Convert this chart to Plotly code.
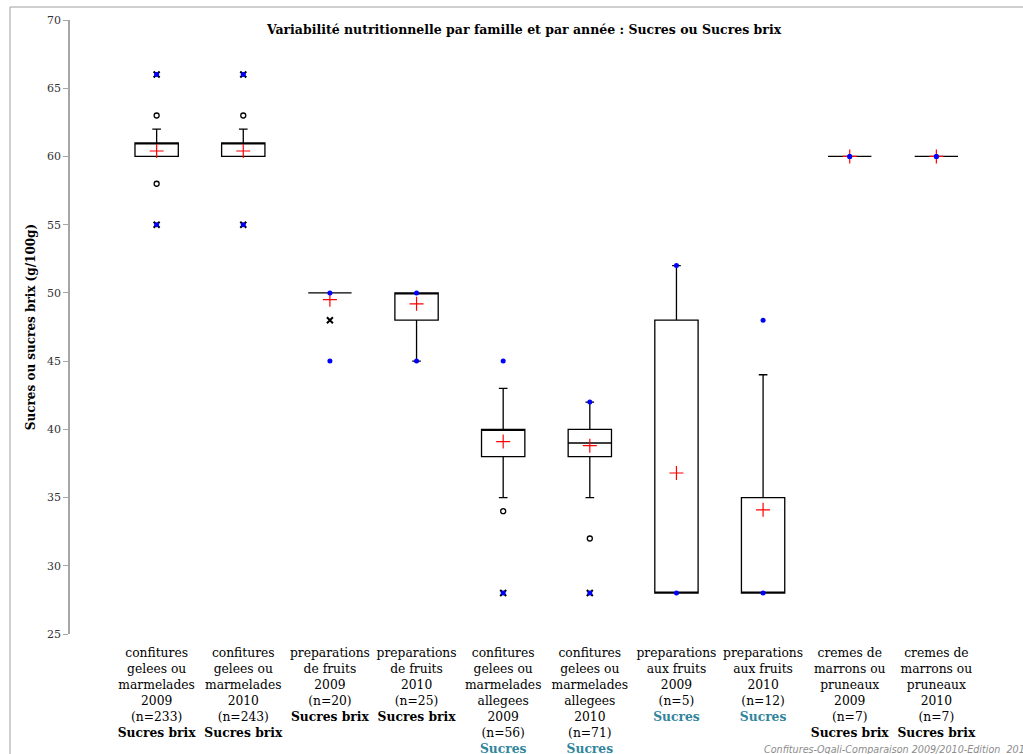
import plotly.graph_objects as go

# ---- data ----
categories = [
    "confitures<br>gelees ou<br>marmelades<br>2009<br>(n=233)<br><b>Sucres brix</b>",
    "confitures<br>gelees ou<br>marmelades<br>2010<br>(n=243)<br><b>Sucres brix</b>",
    "preparations<br>de fruits<br>2009<br>(n=20)<br><b>Sucres brix</b>",
    "preparations<br>de fruits<br>2010<br>(n=25)<br><b>Sucres brix</b>",
    "confitures<br>gelees ou<br>marmelades<br>allegees<br>2009<br>(n=56)<br><b><span style='color:#31859C'>Sucres</span></b>",
    "confitures<br>gelees ou<br>marmelades<br>allegees<br>2010<br>(n=71)<br><b><span style='color:#31859C'>Sucres</span></b>",
    "preparations<br>aux fruits<br>2009<br>(n=5)<br><b><span style='color:#31859C'>Sucres</span></b>",
    "preparations<br>aux fruits<br>2010<br>(n=12)<br><b><span style='color:#31859C'>Sucres</span></b>",
    "cremes de<br>marrons ou<br>pruneaux<br>2009<br>(n=7)<br><b>Sucres brix</b>",
    "cremes de<br>marrons ou<br>pruneaux<br>2010<br>(n=7)<br><b>Sucres brix</b>",
]
positions = [1, 2, 3, 4, 5, 6, 7, 8, 9, 10]
q1 = [60, 60, 50, 48, 38, 38, 28, 28, 60, 60]
median = [61, 61, 50, 50, 40, 39, 28, 28, 60, 60]
q3 = [61, 61, 50, 50, 40, 40, 48, 35, 60, 60]
lower_whisker = [60, 60, 50, 45, 35, 35, 28, 28, 60, 60]
upper_whisker = [62, 62, 50, 50, 43, 42, 52, 44, 60, 60]
means = [60.4, 60.4, 49.5, 49.2, 39.1, 38.8, 36.8, 34.1, 60.0, 60.0]
mins = [55, 55, 45, 45, 28, 28, 28, 28, 60, 60]
maxs = [66, 66, 50, 50, 45, 42, 52, 48, 60, 60]
outliers = [[63, 58], [63], [], [], [34], [32], [], [], [], []]
extremes = [[66, 55], [66, 55], [48], [], [28], [28], [], [], [], []]

y_ticks = [25, 30, 35, 40, 45, 50, 55, 60, 65, 70]

fig = go.Figure()

fig.add_trace(go.Box(
    x=positions, q1=q1, median=median, q3=q3,
    lowerfence=lower_whisker, upperfence=upper_whisker,
    width=0.5, whiskerwidth=0.2, boxpoints=False,
    line=dict(color="black", width=1.3), fillcolor="white",
    showlegend=False, hoverinfo="skip",
))

ox, oy = [], []
for p, vals in zip(positions, outliers):
    for v in vals:
        ox.append(p); oy.append(v)
fig.add_trace(go.Scatter(x=ox, y=oy, mode="markers", showlegend=False,
                         marker=dict(symbol="circle-open", size=5, color="black",
                                     line=dict(width=1.3, color="black"))))

ex, ey = [], []
for p, vals in zip(positions, extremes):
    for v in vals:
        ex.append(p); ey.append(v)
fig.add_trace(go.Scatter(x=ex, y=ey, mode="markers", showlegend=False,
                         marker=dict(symbol="x-thin", size=6,
                                     line=dict(width=2, color="black"))))

fig.add_trace(go.Scatter(x=positions, y=means, mode="markers", showlegend=False,
                         marker=dict(symbol="cross-thin", size=10,
                                     line=dict(width=1.2, color="#FF0000"))))

fig.add_trace(go.Scatter(x=positions + positions, y=mins + maxs, mode="markers",
                         showlegend=False,
                         marker=dict(symbol="circle", size=5, color="#0000FF")))

serif = "DejaVu Serif"
fig.update_layout(
    width=1023, height=754,
    margin=dict(l=70, r=0, t=20, b=120),
    plot_bgcolor="white", paper_bgcolor="white",
    font=dict(family=serif, size=12, color="black"),
    title=dict(text="<b>Variabilité nutritionnelle par famille et par année : Sucres ou Sucres brix</b>",
               x=(524 - 70) / 953, xref="paper", xanchor="center",
               y=1 - 30 / 754, yref="container", yanchor="middle",
               font=dict(family=serif, size=12.5, color="black")),
    xaxis=dict(range=[0, 11], tickvals=positions, ticktext=categories,
               tickangle=0, showline=False, showgrid=False, zeroline=False,
               ticks="", ticklabelstandoff=10, automargin=False,
               tickfont=dict(family=serif, size=12.3, color="black")),
    yaxis=dict(range=[25, 70], tickvals=y_ticks, showgrid=False, zeroline=False,
               showline=True, linecolor="#A6A6A6", linewidth=1.5,
               ticks="outside", ticklen=5, tickcolor="#A6A6A6", automargin=False,
               tickfont=dict(family=serif, size=11, color="#333333"),
               title=dict(text="<b>Sucres ou sucres brix (g/100g)</b>",
                          font=dict(family=serif, size=12, color="black"),
                          standoff=9)),
)

fig.add_shape(type="rect", xref="paper", yref="paper",
              x0=(10 - 70) / 953, x1=1.05, y0=-0.4, y1=1 + 13 / 614,
              line=dict(color="#A0A0A0", width=1), layer="below")

fig.add_annotation(text="<i>Confitures-Oqali-Comparaison 2009/2010-Edition  2011</i>",
                   xref="paper", yref="paper", x=(762 - 70) / 953, y=(634 - 749) / 614,
                   xanchor="left", yanchor="middle", showarrow=False,
                   font=dict(family="DejaVu Sans", size=9.6, color="#8C8C8C"))

fig.write_html("out.html", config={"displayModeBar": False},
               post_script="document.body.style.margin='0px';")
